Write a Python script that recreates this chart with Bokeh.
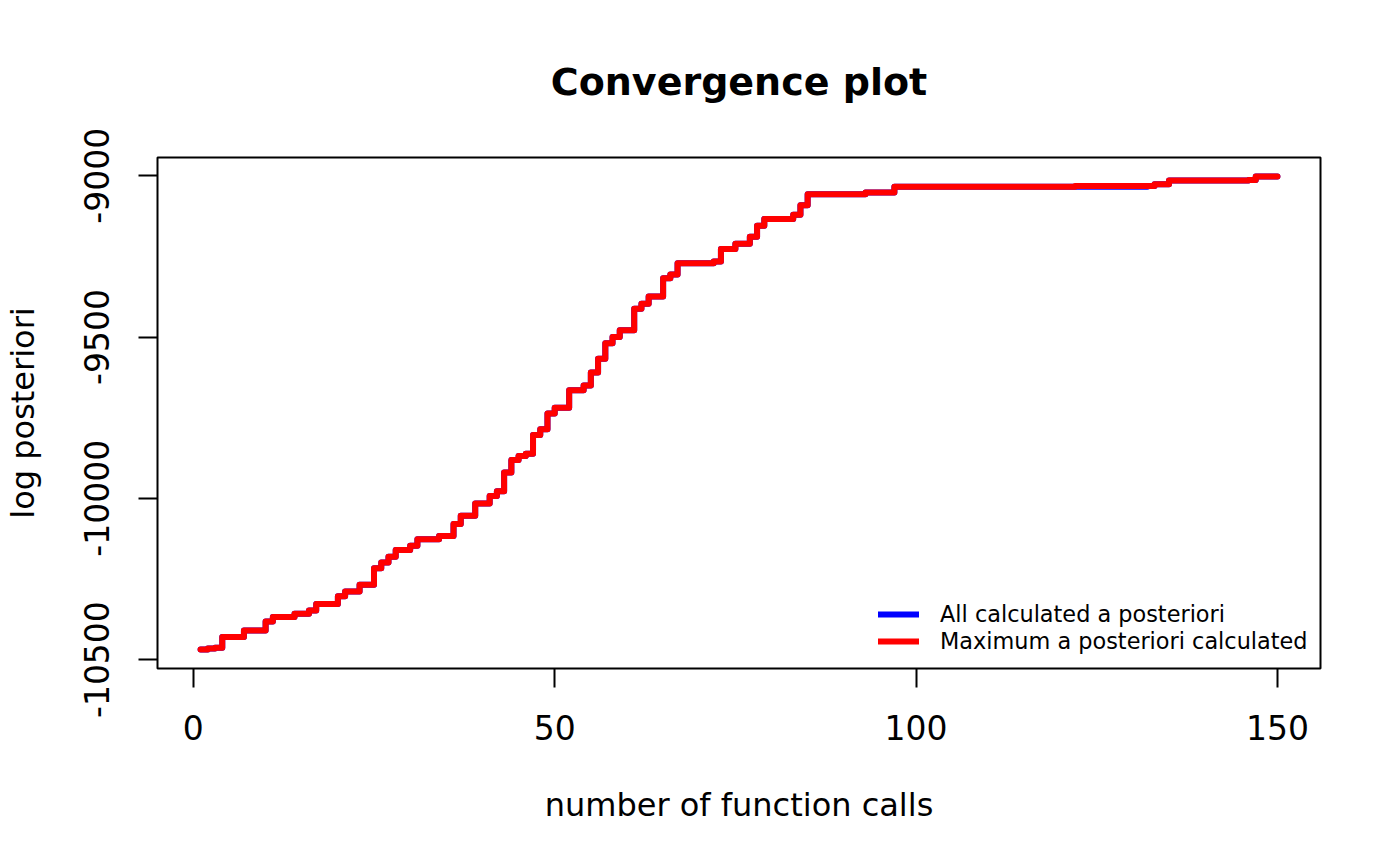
from bokeh.plotting import figure
from bokeh.models import Range1d, FixedTicker, Legend, LegendItem
from bokeh.embed import file_html
from bokeh.resources import INLINE

# ---- data ----
calls = list(range(1, 151))

max_posterior = [
    -10469, -10466, -10463, -10430, -10430, -10430, -10410, -10410, -10410, -10382,
    -10368, -10368, -10368, -10358, -10358, -10348, -10328, -10328, -10328, -10304,
    -10289, -10289, -10268, -10268, -10217, -10199, -10181, -10160, -10160, -10147,
    -10127, -10127, -10127, -10117, -10117, -10080, -10054, -10054, -10016, -10016,
    -9993, -9978, -9920, -9881, -9869, -9862, -9804, -9786, -9737, -9719,
    -9719, -9665, -9665, -9650, -9610, -9567, -9519, -9500, -9479, -9479,
    -9412, -9397, -9374, -9374, -9318, -9306, -9271, -9271, -9271, -9271,
    -9271, -9266, -9227, -9227, -9211, -9211, -9189, -9155, -9134, -9134,
    -9134, -9134, -9121, -9091, -9057, -9057, -9057, -9057, -9057, -9057,
    -9057, -9057, -9052, -9052, -9052, -9052, -9034, -9034, -9034, -9034,
    -9034, -9034, -9034, -9034, -9034, -9034, -9034, -9034, -9034, -9034,
    -9034, -9034, -9034, -9034, -9034, -9034, -9034, -9034, -9034, -9034,
    -9034, -9032, -9032, -9032, -9032, -9032, -9032, -9032, -9032, -9032,
    -9032, -9032, -9026, -9026, -9015, -9015, -9015, -9015, -9015, -9015,
    -9015, -9015, -9015, -9015, -9015, -9013, -9002, -9002, -9002, -9002,
]

all_posterior = [
    -10469, -10466, -10463, -10430, -10430, -10430, -10410, -10410, -10410, -10382,
    -10368, -10368, -10368, -10358, -10358, -10348, -10328, -10328, -10328, -10304,
    -10289, -10289, -10268, -10268, -10217, -10199, -10181, -10160, -10160, -10147,
    -10127, -10127, -10127, -10117, -10117, -10080, -10054, -10054, -10016, -10016,
    -9993, -9978, -9920, -9881, -9869, -9862, -9804, -9786, -9737, -9719,
    -9719, -9665, -9665, -9650, -9610, -9567, -9519, -9500, -9479, -9479,
    -9412, -9397, -9374, -9374, -9318, -9306, -9271, -9271, -9271, -9271,
    -9271, -9266, -9227, -9227, -9211, -9211, -9189, -9155, -9134, -9134,
    -9134, -9134, -9121, -9091, -9057, -9057, -9057, -9057, -9057, -9057,
    -9057, -9057, -9052, -9052, -9052, -9052, -9034, -9034, -9034, -9034,
    -9034, -9034, -9034, -9034, -9034, -9034, -9034, -9034, -9034, -9034,
    -9034, -9034, -9034, -9034, -9034, -9034, -9034, -9034, -9034, -9034,
    -9034, -9034, -9034, -9034, -9034, -9034, -9034, -9034, -9034, -9034,
    -9034, -9032, -9026, -9026, -9015, -9015, -9015, -9015, -9015, -9015,
    -9015, -9015, -9015, -9015, -9015, -9013, -9002, -9002, -9002, -9002,
]

x_ticks = [0, 50, 100, 150]
y_ticks = [-10500, -10000, -9500, -9000]
y_tick_labels = ["-10500", "-10000", "-9500", "-9000"]

title_text = "Convergence plot"
x_title = "number of function calls"
y_title = "log posteriori"
legend_labels = ["All calculated a posteriori", "Maximum a posteriori calculated"]

FONT = "DejaVu Sans"

# R-style 4% axis extension
xmin, xmax = min(calls), max(calls)
ymin = min(min(max_posterior), min(all_posterior))
ymax = max(max(max_posterior), max(all_posterior))
dx = (xmax - xmin) * 0.04
dy = (ymax - ymin) * 0.04

p = figure(
    width=1384, height=849,
    x_range=Range1d(xmin - dx, xmax + dx),
    y_range=Range1d(ymin - dy, ymax + dy),
    output_backend="svg", toolbar_location=None,
    min_border_left=157, min_border_right=64,
    min_border_top=157, min_border_bottom=181,
)
p.background_fill_color = "white"
p.border_fill_color = "white"
p.outline_line_color = "black"
p.outline_line_width = 2
p.xgrid.visible = False
p.ygrid.visible = False

p.title.text = title_text
p.title.align = "center"
p.title.text_font = FONT
p.title.text_font_size = "38px"
p.title.text_font_style = "bold"
p.title.text_color = "black"
p.title.standoff = 108

for ax in (p.xaxis[0], p.yaxis[0]):
    ax.axis_line_color = None
    ax.major_tick_in = 0
    ax.major_tick_out = 19
    ax.major_tick_line_width = 2
    ax.major_tick_line_color = "black"
    ax.minor_tick_line_color = None
    ax.major_label_text_font = FONT
    ax.major_label_text_font_size = "33px"
    ax.major_label_text_color = "black"
    ax.axis_label_text_font = FONT
    ax.axis_label_text_font_size = "32px"
    ax.axis_label_text_font_style = "normal"
    ax.axis_label_text_color = "black"

p.xaxis[0].ticker = FixedTicker(ticks=x_ticks)
p.xaxis[0].major_label_standoff = 27
p.xaxis[0].axis_label = x_title
p.xaxis[0].axis_label_standoff = 43

p.yaxis[0].ticker = FixedTicker(ticks=y_ticks)
p.yaxis[0].major_label_overrides = {t: s for t, s in zip(y_ticks, y_tick_labels)}
p.yaxis[0].major_label_orientation = "vertical"
p.yaxis[0].major_label_standoff = 29
p.yaxis[0].axis_label = y_title
p.yaxis[0].axis_label_standoff = 40

r_all = p.step(calls, all_posterior, mode="after", line_color="blue", line_width=6,
               line_cap="round", line_join="round")
r_max = p.step(calls, max_posterior, mode="after", line_color="red", line_width=6,
               line_cap="round", line_join="round")

legend = Legend(
    items=[LegendItem(label=legend_labels[0], renderers=[r_all]),
           LegendItem(label=legend_labels[1], renderers=[r_max])],
    location=(721, 14),
    padding=0, margin=0, spacing=1,
    glyph_width=41, glyph_height=26, label_height=26,
    label_standoff=21,
    label_text_font=FONT, label_text_font_size="22.4px", label_text_color="black",
    background_fill_alpha=0, border_line_alpha=0,
)
p.add_layout(legend)

open("out.html", "w").write(file_html(p, INLINE))
